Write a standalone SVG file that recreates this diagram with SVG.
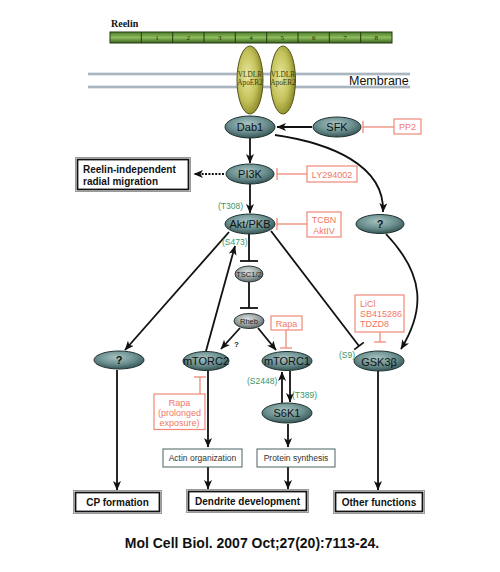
<svg xmlns="http://www.w3.org/2000/svg" width="500" height="572" viewBox="0 0 500 572">
<defs>
<linearGradient id="gBar" x1="0" y1="0" x2="0" y2="1">
<stop offset="0" stop-color="#4e7a2a"/><stop offset="0.5" stop-color="#8cbc5c"/><stop offset="1" stop-color="#3e6620"/>
</linearGradient>
<radialGradient id="gRec" cx="0.4" cy="0.45" r="0.6">
<stop offset="0" stop-color="#e8e8a0"/><stop offset="0.6" stop-color="#c4c25a"/><stop offset="1" stop-color="#8c8a2a"/>
</radialGradient>
<radialGradient id="gNode" cx="0.45" cy="0.35" r="0.7">
<stop offset="0" stop-color="#a6c2c2"/><stop offset="0.55" stop-color="#6a8e8e"/><stop offset="1" stop-color="#2f4c4c"/>
</radialGradient>
<radialGradient id="gGrey" cx="0.45" cy="0.35" r="0.7">
<stop offset="0" stop-color="#d8dcdc"/><stop offset="0.55" stop-color="#9aa4a4"/><stop offset="1" stop-color="#525c5c"/>
</radialGradient>
<marker id="ah" markerUnits="userSpaceOnUse" markerWidth="10" markerHeight="8" refX="9" refY="4" orient="auto">
<path d="M0,0 L9.5,4 L0,8 L2.5,4 Z" fill="#111"/>
</marker>
<style>
.node{fill:url(#gNode);stroke:#1e3232;stroke-width:1}
.gnode{fill:url(#gGrey);stroke:#2e3a3a;stroke-width:1}
.rec{fill:url(#gRec);stroke:#55551c;stroke-width:1}
.nt{font-family:"Liberation Sans",Arial,sans-serif;font-size:11px;fill:#111;text-anchor:middle}
.st{font-family:"Liberation Sans",Arial,sans-serif;font-size:7.5px;fill:#222;text-anchor:middle}
.rt{font-family:"Liberation Sans",Arial,sans-serif;font-size:9px;fill:#f07868}
.gt{font-family:"Liberation Sans",Arial,sans-serif;font-size:8.5px;fill:#3c9466}
.rbox{fill:#fff;stroke:#f08878;stroke-width:1.2}
.red{stroke:#f08878;stroke-width:1.3;fill:none}
.ln{stroke:#111;stroke-width:1.8;fill:none}
.arr{stroke:#111;stroke-width:1.8;fill:none;marker-end:url(#ah)}
.obox{fill:#fff;stroke:#999;stroke-width:1}
.ibox{fill:#fff;stroke:#111;stroke-width:1.8}
.bt{font-family:"Liberation Sans",Arial,sans-serif;font-size:10px;font-weight:bold;fill:#111}
.sbox{fill:#fff;stroke:#4a6262;stroke-width:1}
.sbt{font-family:"Liberation Sans",Arial,sans-serif;font-size:8.5px;fill:#333;text-anchor:middle}
.rn{font-family:"Liberation Serif","Times New Roman",serif;font-size:7px;fill:#1e2e10;text-anchor:middle}
.vt{font-family:"Liberation Serif","Times New Roman",serif;font-size:7.3px;fill:#3a3a10;text-anchor:middle}
</style>
</defs>
<rect width="500" height="572" fill="#fff"/>

<g id="reelin">
<text x="111" y="27" font-family="Liberation Serif,Times New Roman,serif" font-size="10" font-weight="bold" fill="#111">Reelin</text>
<rect x="110" y="32" width="282" height="11" fill="url(#gBar)" stroke="#243a10" stroke-width="1"/>
<g stroke="#243a10" stroke-width="1">
<line x1="141.3" y1="32" x2="141.3" y2="43"/><line x1="172.7" y1="32" x2="172.7" y2="43"/><line x1="204" y1="32" x2="204" y2="43"/><line x1="235.3" y1="32" x2="235.3" y2="43"/><line x1="266.7" y1="32" x2="266.7" y2="43"/><line x1="298" y1="32" x2="298" y2="43"/><line x1="329.3" y1="32" x2="329.3" y2="43"/><line x1="360.7" y1="32" x2="360.7" y2="43"/>
</g>
<text class="rn" x="157" y="40">1</text><text class="rn" x="188.3" y="40">2</text><text class="rn" x="219.7" y="40">3</text><text class="rn" x="251" y="40">4</text><text class="rn" x="282.3" y="40">5</text><text class="rn" x="313.7" y="40">6</text><text class="rn" x="345" y="40">7</text><text class="rn" x="376.3" y="40">8</text>
</g>

<g id="membrane">
<line x1="88" y1="74" x2="410" y2="74" stroke="#8a9aa8" stroke-width="2.4"/>
<line x1="88" y1="74" x2="410" y2="74" stroke="#e4eaee" stroke-width="0.7"/>
<line x1="88" y1="87" x2="410" y2="87" stroke="#8a9aa8" stroke-width="2.4"/>
<line x1="88" y1="87" x2="410" y2="87" stroke="#e4eaee" stroke-width="0.7"/>
<text x="349" y="84.5" font-family="Liberation Sans,Arial,sans-serif" font-size="12.5" fill="#111">Membrane</text>
</g>

<g id="receptor1">
<ellipse class="rec" cx="250" cy="80" rx="13" ry="34"/>
<text class="vt" x="250" y="77">VLDLR</text><text class="vt" x="250" y="85">ApoER2</text>
</g>
<g id="receptor2">
<ellipse class="rec" cx="283" cy="80" rx="12.5" ry="34"/>
<text class="vt" x="283" y="77">VLDLR</text><text class="vt" x="283" y="85">ApoER2</text>
</g>

<g id="connectors">
<line class="arr" x1="312" y1="127" x2="277" y2="127"/>
<line class="red" x1="394" y1="127" x2="363" y2="127"/><line class="red" x1="363" y1="121" x2="363" y2="133"/>
<line class="arr" x1="250" y1="138" x2="250" y2="163"/>
<line class="red" x1="307" y1="174" x2="277" y2="174"/><line class="red" x1="277" y1="168" x2="277" y2="180"/>
<line x1="224" y1="174" x2="194" y2="174" stroke="#111" stroke-width="1.8" stroke-dasharray="2,1.4" marker-end="url(#ah)"/>
<line class="arr" x1="250" y1="184" x2="250" y2="213"/>
<path class="arr" d="M275,135 C330,143 385,165 383,212"/>
<line class="red" x1="307" y1="224" x2="277" y2="224"/><line class="red" x1="277" y1="218" x2="277" y2="230"/>
<line class="ln" x1="249" y1="234" x2="249" y2="261"/><line class="ln" x1="240" y1="261" x2="258" y2="261"/>
<line class="ln" x1="249" y1="282" x2="249" y2="308"/><line class="ln" x1="240" y1="308" x2="258" y2="308"/>
<line class="arr" x1="229" y1="232" x2="125" y2="350"/>
<line class="arr" x1="206" y1="351" x2="235" y2="246"/>
<line class="arr" x1="240" y1="328" x2="221" y2="349"/>
<line class="arr" x1="258" y1="328" x2="276" y2="350"/>
<line class="red" x1="286" y1="330" x2="286" y2="348"/><line class="red" x1="280" y1="348" x2="292" y2="348"/>
<line class="ln" x1="271" y1="231" x2="359" y2="346"/><line class="ln" x1="354.2" y1="349.6" x2="363.8" y2="342.4"/>
<line class="red" x1="380" y1="332" x2="380" y2="342"/><line class="red" x1="374" y1="342" x2="386" y2="342"/>
<path class="arr" d="M386,234 C425,275 425,310 401,349"/>
<line class="red" x1="200" y1="394" x2="200" y2="377"/><line class="red" x1="194" y1="377" x2="206" y2="377"/>
<line class="arr" x1="208" y1="371" x2="208" y2="447"/>
<line class="arr" x1="282" y1="403" x2="282" y2="372"/>
<line class="arr" x1="290" y1="371" x2="290" y2="402"/>
<line class="arr" x1="288" y1="424" x2="288" y2="447"/>
<line class="arr" x1="208" y1="467" x2="208" y2="489"/>
<line class="arr" x1="288" y1="467" x2="288" y2="489"/>
<line class="arr" x1="117" y1="370" x2="117" y2="490"/>
<line class="arr" x1="378" y1="371" x2="378" y2="490"/>
<text x="234" y="347" font-family="Liberation Sans,Arial,sans-serif" font-size="8" font-weight="bold" fill="#222">?</text>
</g>

<g id="dab1"><ellipse class="node" cx="250" cy="127" rx="25" ry="11"/><text class="nt" x="250" y="131">Dab1</text></g>
<g id="sfk"><ellipse class="node" cx="337" cy="127" rx="24" ry="10"/><text class="nt" x="337" y="131">SFK</text></g>
<g id="pp2"><rect class="rbox" x="394" y="119" width="27" height="15"/><text class="rt" x="407.5" y="130" text-anchor="middle" font-size="9.5">PP2</text></g>
<g id="pi3k"><ellipse class="node" cx="250" cy="174" rx="24" ry="10"/><text class="nt" x="250" y="178">PI3K</text></g>
<g id="ly"><rect class="rbox" x="307" y="166" width="50" height="16"/><text class="rt" x="332" y="177.5" text-anchor="middle" font-size="9.3">LY294002</text></g>
<g id="radial">
<rect class="obox" x="75.5" y="157.5" width="115" height="34"/>
<rect class="ibox" x="77.5" y="159.5" width="111" height="30"/>
<text class="bt" x="83" y="172.5" font-size="9.8">Reelin-independent</text>
<text class="bt" x="83" y="184.5" font-size="9.8">radial migration</text>
</g>
<g id="t308"><text class="gt" x="218" y="209">(T308)</text></g>
<g id="akt"><ellipse class="node" cx="250" cy="224" rx="25" ry="10"/><text class="nt" x="250" y="228">Akt/PKB</text></g>
<g id="tcbn"><rect class="rbox" x="307" y="212" width="34" height="25"/><text class="rt" x="324" y="222.5" text-anchor="middle">TCBN</text><text class="rt" x="324" y="233.5" text-anchor="middle">AktIV</text></g>
<g id="q2"><ellipse class="node" cx="380" cy="224" rx="24" ry="9.5"/><text class="nt" x="380" y="228" font-weight="bold" font-size="10">?</text></g>
<g id="s473"><text class="gt" x="222" y="244.5">(S473)</text></g>
<g id="tsc"><ellipse class="gnode" cx="249" cy="274" rx="14" ry="8"/><text class="st" x="249" y="277">TSC1/2</text></g>
<g id="rheb"><ellipse class="gnode" cx="249" cy="321" rx="15" ry="7.5"/><text class="st" x="249" y="324" font-size="8">Rheb</text></g>
<g id="rapa"><rect class="rbox" x="271" y="316" width="31" height="14"/><text class="rt" x="286.5" y="326.5" text-anchor="middle" font-size="8.6">Rapa</text></g>
<g id="lici"><rect class="rbox" x="355" y="295" width="49" height="37"/><text class="rt" x="360" y="307" font-size="8.8">LiCl</text><text class="rt" x="360" y="317" font-size="8.8">SB415286</text><text class="rt" x="360" y="327" font-size="8.8">TDZD8</text></g>
<g id="q1"><ellipse class="node" cx="119" cy="360" rx="25" ry="9"/><text class="nt" x="119" y="364" font-weight="bold" font-size="10">?</text></g>
<g id="mtorc2"><ellipse class="node" cx="206" cy="361" rx="23" ry="9.5"/><text class="nt" x="206" y="365" font-size="10">mTORC2</text></g>
<g id="mtorc1"><ellipse class="node" cx="287" cy="361" rx="25" ry="9.5"/><text class="nt" x="287" y="365" font-size="10.3">mTORC1</text></g>
<g id="s9"><text class="gt" x="339" y="358">(S9)</text></g>
<g id="gsk"><ellipse class="node" cx="379" cy="361" rx="25" ry="10"/><text class="nt" x="379" y="365.5" font-size="12">GSK3β</text></g>
<g id="s2448"><text class="gt" x="247" y="384">(S2448)</text></g>
<g id="t389"><text class="gt" x="292" y="398">(T389)</text></g>
<g id="rapa2"><rect class="rbox" x="154" y="394" width="51" height="35.5"/><text class="rt" x="179.5" y="405.5" text-anchor="middle">Rapa</text><text class="rt" x="179.5" y="415.5" text-anchor="middle">(prolonged</text><text class="rt" x="179.5" y="425.5" text-anchor="middle">exposure)</text></g>
<g id="s6k1"><ellipse class="node" cx="287" cy="413" rx="25" ry="10"/><text class="nt" x="287" y="417" font-size="10.5">S6K1</text></g>
<g id="actin"><rect class="sbox" x="163" y="449" width="79" height="18"/><text class="sbt" x="202.5" y="461">Actin organization</text></g>
<g id="protein"><rect class="sbox" x="257" y="449" width="78" height="18"/><text class="sbt" x="296" y="461">Protein synthesis</text></g>
<g id="cp"><rect class="obox" x="73.5" y="490.5" width="88" height="23"/><rect class="ibox" x="75.5" y="492.5" width="84" height="19"/><text class="bt" x="117.5" y="506" text-anchor="middle">CP formation</text></g>
<g id="dendrite"><rect class="obox" x="186.5" y="489.5" width="122" height="23"/><rect class="ibox" x="188.5" y="491.5" width="118" height="19"/><text class="bt" x="247.5" y="505" text-anchor="middle">Dendrite development</text></g>
<g id="other"><rect class="obox" x="333.5" y="490.5" width="91" height="23"/><rect class="ibox" x="335.5" y="492.5" width="87" height="19"/><text class="bt" x="379" y="506" text-anchor="middle">Other functions</text></g>
<text x="252" y="548" text-anchor="middle" font-family="Liberation Sans,Arial,sans-serif" font-size="14" font-weight="bold" fill="#111">Mol Cell Biol. 2007 Oct;27(20):7113-24.</text>
</svg>
